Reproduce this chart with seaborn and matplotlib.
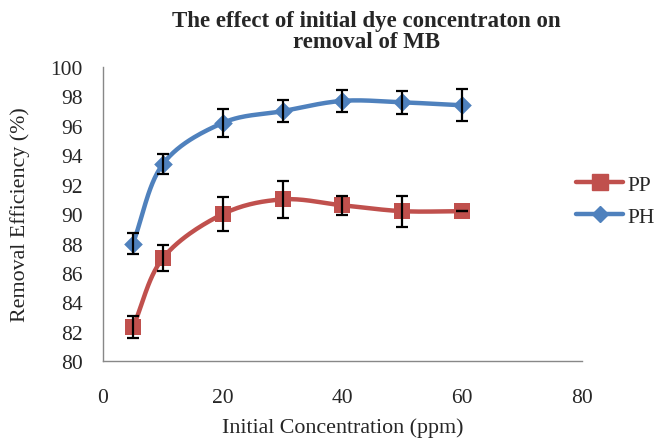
import numpy as np
import pandas as pd
import matplotlib
matplotlib.use("Agg")
import matplotlib.pyplot as plt
import seaborn as sns
from matplotlib.lines import Line2D

conc = [5, 10, 20, 30, 40, 50, 60]
pp = [82.3, 87.0, 90.0, 91.0, 90.6, 90.2, 90.2]
pp_err = [0.75, 0.87, 1.15, 1.25, 0.64, 1.05, 0.0]
ph = [88.0, 93.4, 96.2, 97.0, 97.7, 97.6, 97.4]
ph_err = [0.73, 0.67, 0.98, 0.77, 0.73, 0.77, 1.09]

sns.set_style("white")
plt.rcParams['font.family'] = ['Liberation Serif', 'DejaVu Serif']

def smooth(x, y, n=30):
    # Catmull-Rom spline through the points (Excel-style smoothed line)
    x = np.asarray(x, float); y = np.asarray(y, float)
    P = np.column_stack([x, y])
    P = np.vstack([2 * P[0] - P[1], P, 2 * P[-1] - P[-2]])
    out = []
    for i in range(1, len(P) - 2):
        p0, p1, p2, p3 = P[i - 1], P[i], P[i + 1], P[i + 2]
        t = np.linspace(0, 1, n)[:, None]
        pts = 0.5 * ((2 * p1) + (-p0 + p2) * t + (2 * p0 - 5 * p1 + 4 * p2 - p3) * t ** 2
                     + (-p0 + 3 * p1 - 3 * p2 + p3) * t ** 3)
        out.append(pts if i == 1 else pts[1:])
    out = np.vstack(out)
    return out[:, 0], out[:, 1]

fig = plt.figure(figsize=(6.56, 4.39), dpi=100)
ax = fig.add_axes([0.157, 0.175, 0.73, 0.67])

red = "#C0504D"
blue = "#4F81BD"

for vals, errs, col, mk, ms, lab in [(pp, pp_err, red, "s", 12, "PP"),
                                     (ph, ph_err, blue, "D", 9.5, "PH")]:
    sx, sy = smooth(conc, vals)
    ax.plot(sx, sy, color=col, lw=3.2, solid_capstyle="round", zorder=2)
    sns.scatterplot(x=conc, y=vals, ax=ax, color=col, marker=mk, s=ms ** 2,
                    edgecolor=col, linewidth=0, zorder=3, legend=False)
    ax.errorbar(conc, vals, yerr=errs, fmt="none", ecolor="black", elinewidth=1.6,
                capsize=4.5, capthick=1.6, zorder=4)

ax.set_xlim(0, 80)
ax.set_ylim(80, 100)
ax.set_xticks([0, 20, 40, 60, 80])
ax.set_yticks(np.arange(80, 101, 2))
ax.tick_params(axis="both", labelsize=15.5, direction="out", length=5, width=1,
               color="#888888")
ax.tick_params(axis="y", pad=9.5)
ax.tick_params(axis="x", pad=14)
for s in ["top", "right"]:
    ax.spines[s].set_visible(False)
for s in ["left", "bottom"]:
    ax.spines[s].set_color("#888888")
    ax.spines[s].set_linewidth(1)

ax.set_xlabel("Initial Concentration (ppm)", fontsize=15.8)
ax.set_ylabel("Removal Efficiency (%)", fontsize=15.8)
ax.xaxis.set_label_coords(0.5, -0.19)
ax.yaxis.set_label_coords(-0.152, 0.5)
fig.text(0.558, 0.975, "The effect of initial dye concentraton on\nremoval of MB",
         ha="center", va="top", fontsize=16.5, fontweight="bold", linespacing=1.0)

handles = [Line2D([0], [0], color=red, lw=3.2, marker="s", markersize=11),
           Line2D([0], [0], color=blue, lw=3.2, marker="D", markersize=8)]
fig.legend(handles, ["PP", "PH"], loc="center left", bbox_to_anchor=(0.878, 0.54),
           frameon=False, fontsize=15.5, handlelength=2.2, handletextpad=0.2,
           labelspacing=0.55, borderpad=0, borderaxespad=0)

fig.savefig("out.png", dpi=100)
